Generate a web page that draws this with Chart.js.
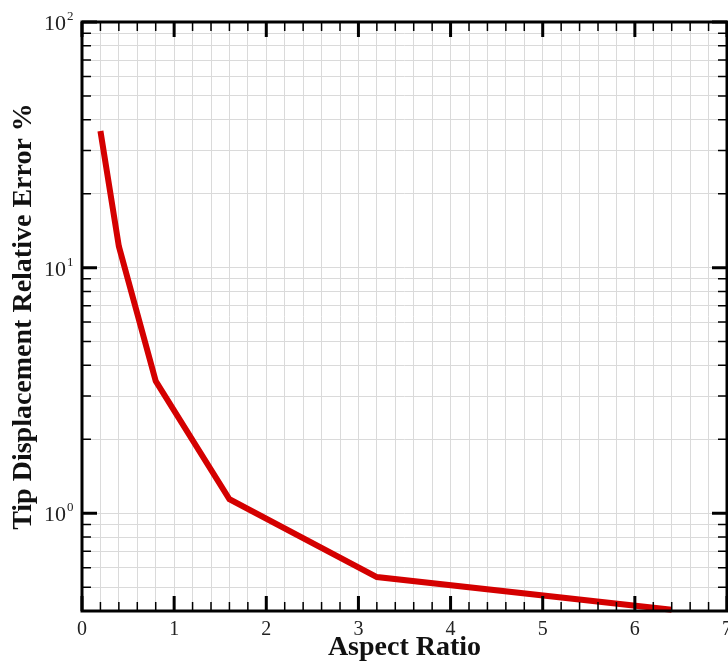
<!DOCTYPE html>
<html>
<head>
<meta charset="utf-8">
<script src="https://cdn.jsdelivr.net/npm/chart.js@4.4.1/dist/chart.umd.min.js"></script>
<style>
  html, body { margin: 0; padding: 0; background: #fff; }
  #wrap { width: 728px; height: 667px; }
</style>
</head>
<body>
<div id="wrap"><canvas id="chart" width="728" height="667"></canvas></div>
<script>
// values
const aspectRatio = [0.2, 0.4, 0.8, 1.6, 3.2, 6.4];
const relativeError = [36, 12.2, 3.45, 1.14, 0.55, 0.405];

// log axis ticks (minor grid); only decades get a label (base + exponent)
const yTickValues = [0.4, 0.5, 0.6, 0.7, 0.8, 0.9, 1, 2, 3, 4, 5, 6, 7, 8, 9,
                     10, 20, 30, 40, 50, 60, 70, 80, 90, 100];
const yDecadeExponents = { 1: '0', 10: '1', 100: '2' };

const FONT = "'Liberation Serif', 'Times New Roman', serif";

const isWhole = v => Math.abs(v - Math.round(v)) < 1e-6;
const isDecade = v => yDecadeExponents[v] !== undefined;

// black frame with inward ticks on all four sides, plus 10^n labels
const framePlugin = {
    id: 'frame',
    afterDraw(chart) {
        const { ctx, chartArea: a, scales } = chart;
        ctx.save();
        ctx.strokeStyle = '#000';
        ctx.lineCap = 'butt';

        scales.x.ticks.forEach(t => {
            const px = scales.x.getPixelForValue(t.value);
            const major = isWhole(t.value);
            const len = major ? 15 : 9;
            ctx.lineWidth = major ? 3 : 1.5;
            ctx.beginPath();
            ctx.moveTo(px, a.bottom); ctx.lineTo(px, a.bottom - len);
            ctx.moveTo(px, a.top); ctx.lineTo(px, a.top + len);
            ctx.stroke();
        });

        scales.y.ticks.forEach(t => {
            const py = scales.y.getPixelForValue(t.value);
            const major = isDecade(t.value);
            const len = major ? 15 : 9;
            ctx.lineWidth = major ? 3 : 1.5;
            ctx.beginPath();
            ctx.moveTo(a.left, py); ctx.lineTo(a.left + len, py);
            ctx.moveTo(a.right, py); ctx.lineTo(a.right - len, py);
            ctx.stroke();
        });

        ctx.lineWidth = 3;
        ctx.strokeRect(a.left, a.top, a.right - a.left, a.bottom - a.top);

        // decade labels with a raised exponent
        ctx.fillStyle = '#222';
        ctx.textBaseline = 'alphabetic';
        scales.y.ticks.forEach(t => {
            if (!isDecade(t.value)) return;
            const py = scales.y.getPixelForValue(t.value);
            ctx.font = `22px ${FONT}`;
            ctx.textAlign = 'right';
            ctx.fillText('10', a.left - 16, py + 8);
            ctx.font = `13px ${FONT}`;
            ctx.textAlign = 'left';
            ctx.fillText(yDecadeExponents[t.value], a.left - 15, py - 2);
        });
        ctx.restore();
    }
};

new Chart(document.getElementById('chart'), {
    type: 'scatter',
    data: {
        datasets: [{
            data: aspectRatio.map((x, i) => ({ x, y: relativeError[i] })),
            showLine: true,
            borderColor: '#d40000',
            borderWidth: 6,
            pointRadius: 0,
            tension: 0,
            clip: 3
        }]
    },
    options: {
        responsive: false,
        animation: false,
        layout: { padding: { top: 22, right: 1, left: 0, bottom: 0 } },
        plugins: {
            legend: { display: false },
            tooltip: { enabled: false }
        },
        scales: {
            x: {
                type: 'linear',
                min: 0,
                max: 7,
                grid: { color: '#dadada', lineWidth: 1, drawTicks: false },
                border: { display: false },
                ticks: {
                    stepSize: 0.2,
                    autoSkip: false,
                    maxRotation: 0,
                    padding: 7,
                    color: '#222',
                    font: { family: FONT, size: 20 },
                    callback: v => isWhole(v) ? String(Math.round(v)) : ''
                },
                title: {
                    display: true,
                    text: 'Aspect Ratio',
                    color: '#111',
                    padding: { top: 0, bottom: 2 },
                    font: { family: FONT, size: 28, weight: 'bold' }
                },
                afterFit(scale) {
                    scale.height = 56;
                    scale.paddingLeft = 0;
                    scale.paddingRight = 0;
                }
            },
            y: {
                type: 'logarithmic',
                min: 0.4,
                max: 100,
                grid: { color: '#dadada', lineWidth: 1, drawTicks: false },
                border: { display: false },
                afterBuildTicks(scale) {
                    scale.ticks = yTickValues.map(v => ({ value: v, major: isDecade(v) }));
                },
                ticks: {
                    autoSkip: false,
                    display: false
                },
                title: {
                    display: true,
                    text: 'Tip Displacement Relative Error %',
                    color: '#111',
                    padding: { top: 7, bottom: 0 },
                    font: { family: FONT, size: 28, weight: 'bold' }
                },
                afterFit(scale) {
                    scale.width = 82;
                    scale.paddingTop = 0;
                    scale.paddingBottom = 0;
                }
            }
        }
    },
    plugins: [framePlugin]
});
</script>
</body>
</html>
